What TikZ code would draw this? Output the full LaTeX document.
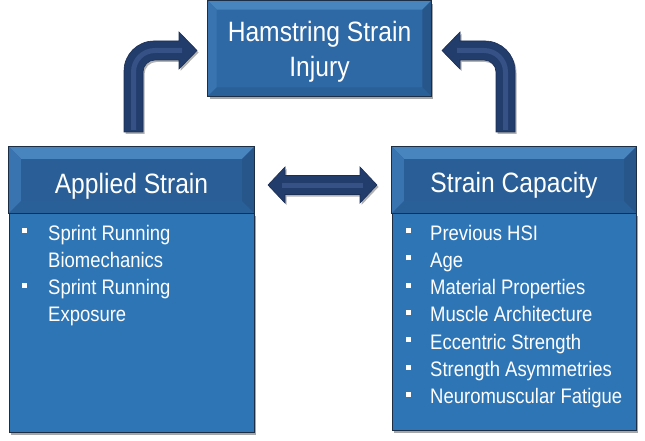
\documentclass[tikz,border=0pt]{standalone}
\usepackage{fontspec}
\setmainfont{Liberation Sans}[FakeStretch=0.88]
\usetikzlibrary{shadows}
\definecolor{topfill}{RGB}{46,104,165}
\definecolor{bevlight}{RGB}{72,132,190}
\definecolor{bevmid}{RGB}{58,116,176}
\definecolor{bevdark}{RGB}{42,96,152}
\definecolor{bevdark2}{RGB}{38,86,138}
\definecolor{hdrfill}{RGB}{42,94,150}
\definecolor{bodyfill}{RGB}{46,117,182}
\definecolor{edgecol}{RGB}{28,45,70}
\definecolor{arrowfill}{RGB}{34,60,108}
\definecolor{arrowhi}{RGB}{66,96,152}
\newcommand\mybevel[2]{%
 \fill[bevlight] (#1.north west) -- (#1.north east) -- ([shift={(-#2,#2)}]#1.north east) -- ([shift={(#2,#2)}]#1.north west) -- cycle;
 \fill[bevmid] (#1.north west) -- ([shift={(#2,#2)}]#1.north west) -- ([shift={(#2,-#2)}]#1.south west) -- (#1.south west) -- cycle;
 \fill[bevdark] (#1.south west) -- ([shift={(#2,-#2)}]#1.south west) -- ([shift={(-#2,-#2)}]#1.south east) -- (#1.south east) -- cycle;
 \fill[bevdark2] (#1.north east) -- (#1.south east) -- ([shift={(-#2,-#2)}]#1.south east) -- ([shift={(-#2,#2)}]#1.north east) -- cycle;
 \draw[edgecol, line width=0.8pt] (#1.north west) rectangle (#1.south east);
}
\newcommand\sq{\raisebox{7pt}{\rule{5pt}{5pt}}}
\tikzset{
 boxshape/.style={rectangle, inner sep=0pt, draw=edgecol, line width=0.8pt,
   drop shadow={shadow xshift=2pt, shadow yshift=-3pt, opacity=0.35, fill=black}},
 titletext/.style={inner sep=0pt, text=white, font=\fontsize{28}{35}\selectfont},
 listtext/.style={inner sep=0pt, text=white, font=\fontsize{21}{27.3}\selectfont, anchor=base west},
 arrowshape/.style={fill=arrowfill, draw=arrowfill!80!black, line width=0.6pt,
   drop shadow={shadow xshift=1.5pt, shadow yshift=-2pt, opacity=0.3, fill=black}},
 arrowhl/.style={draw=arrowhi, line width=5pt, opacity=0.6}
}
\begin{document}
\begin{tikzpicture}[x=1pt,y=-1pt]
\useasboundingbox (0,0) rectangle (645,441);
% bent arrows
\path[arrowshape] (124,132) -- (124,71) .. controls (124,54.4) and (137.4,41) .. (154,41) -- (179,41) -- (179,32) -- (197,50.5) -- (179,69) -- (179,60) -- (155,60) .. controls (148.4,60) and (143,65.4) .. (143,72) -- (143,132) -- cycle;
\draw[arrowhl] (133.5,130) -- (133.5,72) .. controls (133.5,60) and (143,50.5) .. (155,50.5) -- (182,50.5);
\path[arrowshape] (515,132) -- (515,71) .. controls (515,54.4) and (501.6,41) .. (485,41) -- (460,41) -- (460,32) -- (442,50.5) -- (460,69) -- (460,60) -- (484,60) .. controls (490.6,60) and (496,65.4) .. (496,72) -- (496,132) -- cycle;
\draw[arrowhl] (505.5,130) -- (505.5,72) .. controls (505.5,60) and (496,50.5) .. (484,50.5) -- (457,50.5);
% double arrow
\path[arrowshape] (268,185) -- (285,167) -- (285,175.5) -- (360,175.5) -- (360,167) -- (377,185) -- (360,203) -- (360,194.5) -- (285,194.5) -- (285,203) -- cycle;
\draw[arrowhl] (282,185) -- (363,185);
% top box
\node[boxshape, fill=topfill, minimum width=223pt, minimum height=95pt] (top) at (319.5,48.5) {};
\mybevel{top}{9}
\node[titletext, anchor=base] (toptxt) at (319.5,42) {\begin{tabular}[t]{@{}c@{}}Hamstring Strain\\Injury\end{tabular}};
% left column
\node[boxshape, fill=bodyfill, minimum width=245pt, minimum height=219pt] (lbody) at (131.5,322.5) {};
\node[rectangle, inner sep=0pt, fill=hdrfill, minimum width=245pt, minimum height=66pt] (lhead) at (131.5,180) {};
\mybevel{lhead}{12}
\node[titletext, anchor=base] (lhtxt) at (131.5,193) {Applied Strain};
\node[listtext] (llist) at (22,240) {\begin{tabular}[t]{@{}l@{\hspace{21pt}}l@{}}\sq & Sprint Running\\ & Biomechanics\\ \sq & Sprint Running\\ & Exposure\end{tabular}};
% right column
\node[boxshape, fill=bodyfill, minimum width=244pt, minimum height=217pt] (rbody) at (514,321.5) {};
\node[rectangle, inner sep=0pt, fill=hdrfill, minimum width=244pt, minimum height=66pt] (rhead) at (514,180) {};
\mybevel{rhead}{12}
\node[titletext, anchor=base] (rhtxt) at (514,192) {Strain Capacity};
\node[listtext] (rlist) at (406,240) {\begin{tabular}[t]{@{}l@{\hspace{19pt}}l@{}}\sq & Previous HSI\\ \sq & Age\\ \sq & Material Properties\\ \sq & Muscle Architecture\\ \sq & Eccentric Strength\\ \sq & Strength Asymmetries\\ \sq & Neuromuscular Fatigue\end{tabular}};
\end{tikzpicture}
\end{document}
